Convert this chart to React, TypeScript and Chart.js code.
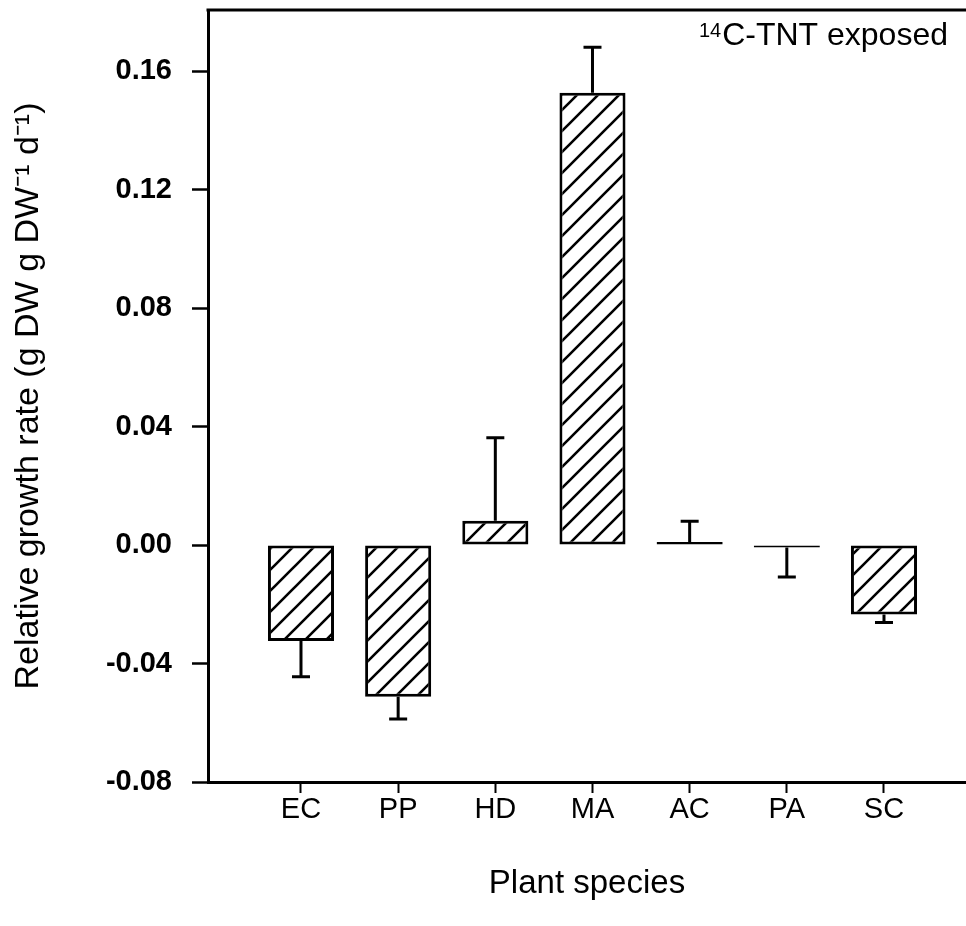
import React, { useEffect, useRef } from 'react';
import { Chart, registerables } from 'chart.js';

Chart.register(...registerables);

const categories = ['EC', 'PP', 'HD', 'MA', 'AC', 'PA', 'SC'];
const growthRate = [-0.0324, -0.0512, 0.0082, 0.1527, 0.001, -0.0008, -0.0235];
const errorSize = [0.0121, 0.0075, 0.028, 0.0153, 0.007, 0.01, 0.0027];
const yTickValues = [-0.08, -0.04, 0, 0.04, 0.08, 0.12, 0.16];
const yTitle = 'Relative growth rate (g DW g DW\u207B\u00B9 d\u207B\u00B9)';
const xTitle = 'Plant species';
const annotationSup = '14';
const annotationText = 'C-TNT exposed';

const SANS = '"Liberation Sans", Arial, sans-serif';

function makeHatch(): CanvasPattern | string {
  const s = 21;
  const c = document.createElement('canvas');
  c.width = s;
  c.height = s;
  const g = c.getContext('2d');
  if (!g) return '#fff';
  g.fillStyle = '#fff';
  g.fillRect(0, 0, s, s);
  g.strokeStyle = '#000';
  g.lineWidth = 2.6;
  g.beginPath();
  g.moveTo(-2, s + 2);
  g.lineTo(s + 2, -2);
  g.moveTo(-s / 2 - 2, s / 2 + 2);
  g.lineTo(s / 2 + 2, -s / 2 - 2);
  g.moveTo(s / 2 - 2, s * 1.5 + 2);
  g.lineTo(s * 1.5 + 2, s / 2 - 2);
  g.stroke();
  const p = g.createPattern(c, 'repeat');
  return p || '#fff';
}

const overlayPlugin = {
  id: 'overlay',
  afterDatasetsDraw(chart: any) {
    const { ctx, chartArea, scales } = chart;
    const x = scales.x;
    const y = scales.y;
    ctx.save();
    ctx.strokeStyle = '#000';
    ctx.lineWidth = 3;
    growthRate.forEach((v, i) => {
      const cx = x.getPixelForValue(i + 1);
      const dir = v >= 0 ? 1 : -1;
      const y0 = y.getPixelForValue(v);
      const y1 = y.getPixelForValue(v + dir * errorSize[i]);
      ctx.beginPath();
      ctx.moveTo(cx, y0);
      ctx.lineTo(cx, y1);
      ctx.moveTo(cx - 9, y1);
      ctx.lineTo(cx + 9, y1);
      ctx.stroke();
    });
    // top frame line
    ctx.lineWidth = 3;
    ctx.beginPath();
    ctx.moveTo(chartArea.left - 1.5, chartArea.top);
    ctx.lineTo(chartArea.right, chartArea.top);
    ctx.stroke();
    // annotation
    ctx.fillStyle = '#000';
    ctx.textBaseline = 'alphabetic';
    ctx.textAlign = 'left';
    ctx.font = `32px ${SANS}`;
    const w = ctx.measureText(annotationText).width;
    const right = 948;
    ctx.fillText(annotationText, right - w, 45);
    ctx.font = `20px ${SANS}`;
    const ws = ctx.measureText(annotationSup).width;
    ctx.fillText(annotationSup, right - w - ws - 1, 37);
    ctx.restore();
  },
};

export default function App() {
  const ref = useRef<HTMLCanvasElement | null>(null);
  useEffect(() => {
    if (!ref.current) return;
    const hatch = makeHatch();
    const chart = new Chart(ref.current, {
      type: 'bar',
      data: {
        datasets: [
          {
            data: growthRate.map((v, i) => ({ x: i + 1, y: v })),
            backgroundColor: hatch as any,
            borderColor: '#000',
            borderWidth: 3,
            borderSkipped: false,
            barPercentage: 0.68,
            categoryPercentage: 1,
          },
        ],
      },
      options: {
        animation: false,
        responsive: false,
        devicePixelRatio: 1,
        layout: { padding: { top: 10, left: 0, right: 0, bottom: 0 } },
        plugins: { legend: { display: false }, tooltip: { enabled: false } },
        scales: {
          x: {
            type: 'linear',
            min: 0.043,
            max: 7.844,
            offset: false,
            grid: {
              display: true,
              drawOnChartArea: false,
              offset: false,
              tickLength: 11,
              tickWidth: 2,
              tickColor: '#000',
            },
            border: { display: true, width: 3, color: '#000' },
            afterBuildTicks: (axis: any) => {
              axis.ticks = categories.map((_, i) => ({ value: i + 1 }));
            },
            afterFit: (axis: any) => {
              axis.height = 144;
              axis.paddingLeft = 0;
              axis.paddingRight = 0;
            },
            ticks: {
              autoSkip: false,
              maxRotation: 0,
              padding: 0,
              color: '#000',
              font: { family: SANS, size: 29 },
              callback: (v: any) => categories[Math.round(Number(v)) - 1] ?? '',
            },
            title: {
              display: true,
              text: xTitle,
              color: '#000',
              font: { family: SANS, size: 33 },
              padding: { top: 0, bottom: 22 },
            },
          },
          y: {
            type: 'linear',
            min: -0.08,
            max: 0.1806,
            grid: {
              display: true,
              drawOnChartArea: false,
              tickLength: 16,
              tickWidth: 2.5,
              tickColor: '#000',
            },
            border: { display: true, width: 3, color: '#000' },
            afterBuildTicks: (axis: any) => {
              axis.ticks = yTickValues.map((v) => ({ value: v }));
            },
            afterFit: (axis: any) => {
              axis.width = 208;
              axis.paddingTop = 0;
              axis.paddingBottom = 0;
            },
            ticks: {
              padding: 20,
              color: '#000',
              font: { family: SANS, size: 29, weight: 'bold' },
              callback: (v: any) => Number(v).toFixed(2),
            },
            title: {
              display: true,
              text: yTitle,
              color: '#000',
              font: { family: SANS, size: 34 },
              padding: { top: 8, bottom: 0 },
            },
          },
        },
      },
      plugins: [overlayPlugin],
    });
    return () => chart.destroy();
  }, []);
  return (
    <div style={{ position: 'fixed', left: 0, top: 0, width: 966, height: 926, background: '#fff' }}>
      <canvas ref={ref} width={966} height={926} style={{ display: 'block' }} />
    </div>
  );
}
